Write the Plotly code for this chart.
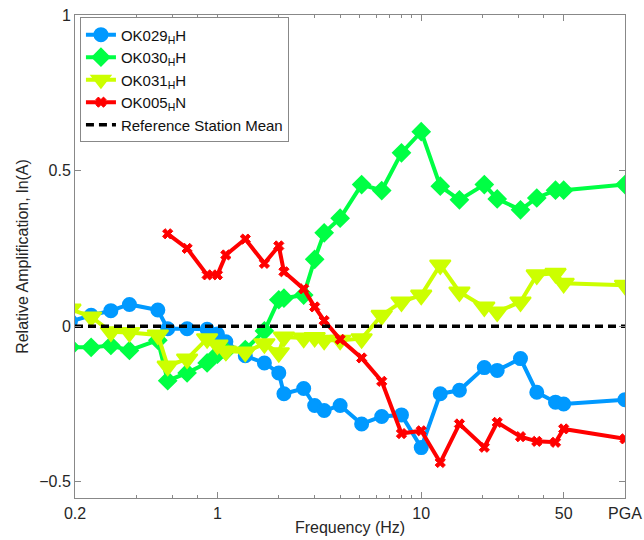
import plotly.graph_objects as go

# Frequencies (Hz); last value (100) is plotted at the "PGA" position
freq = [0.19, 0.24, 0.30, 0.37, 0.51, 0.57, 0.71, 0.89, 1.0, 1.1, 1.37, 1.7, 2.0, 2.12,
        2.65, 3.0, 3.34, 4.0, 5.1, 6.4, 8.0, 10.0, 12.4, 15.4, 20.4, 23.6, 30.7, 36.9,
        45.6, 50.0, 100.0]

ok029 = [0.015, 0.035, 0.05, 0.07, 0.052, -0.008, -0.008, -0.01, -0.025, -0.05, -0.095,
         -0.118, -0.15, -0.217, -0.2, -0.255, -0.271, -0.255, -0.314, -0.29, -0.285,
         -0.39, -0.217, -0.206, -0.133, -0.142, -0.104, -0.212, -0.244, -0.25, -0.236]

ok030 = [-0.067, -0.068, -0.062, -0.078, -0.045, -0.175, -0.15, -0.118, -0.09, -0.08,
         -0.075, -0.015, 0.085, 0.09, 0.1, 0.215, 0.3, 0.347, 0.455, 0.436, 0.557, 0.625,
         0.45, 0.406, 0.455, 0.409, 0.374, 0.412, 0.437, 0.437, 0.455]

ok031 = [0.055, 0.03, -0.018, -0.02, -0.028, -0.128, -0.105, -0.04, -0.06, -0.08, -0.083,
         -0.056, -0.085, -0.035, -0.038, -0.036, -0.045, -0.045, -0.04, 0.035, 0.078, 0.1,
         0.197, 0.11, 0.062, 0.046, 0.078, 0.165, 0.17, 0.138, 0.132]

freq_005 = freq[5:]
ok005 = [0.297, 0.25, 0.165, 0.165, 0.229, 0.28, 0.202, 0.258, 0.175, 0.12, 0.062, 0.018,
         -0.042, -0.102, -0.177, -0.345, -0.336, -0.438, -0.314, -0.389, -0.309, -0.355,
         -0.37, -0.373, -0.33, -0.362]

ref_x = [0.2, 100.0]
ref_y = [0.0, 0.0]

major_ticks = [0.2, 1, 10, 50, 100]
major_text = ["0.2", "1", "10", "50", "PGA"]
minor_ticks = [0.4, 0.6, 0.8, 2, 3, 4, 5, 6, 7, 8, 9, 20, 30, 40]

y_ticks = [-0.5, 0, 0.5, 1]
y_text = ["\u22120.5", "0", "0.5", "1"]

FONT = "Liberation Sans, Arial, sans-serif"

fig = go.Figure()
fig.add_trace(go.Scatter(
    x=freq, y=ok029, mode="lines+markers", name="OK029<sub>H</sub>H",
    line=dict(color="#0099FF", width=4),
    marker=dict(symbol="circle", size=13, color="#0099FF", line=dict(color="#0099FF", width=2)),
))
fig.add_trace(go.Scatter(
    x=freq, y=ok030, mode="lines+markers", name="OK030<sub>H</sub>H",
    line=dict(color="#00FF44", width=4),
    marker=dict(symbol="diamond", size=13, color="#00FF44", line=dict(color="#00FF44", width=2)),
))
fig.add_trace(go.Scatter(
    x=freq, y=ok031, mode="lines+markers", name="OK031<sub>H</sub>H",
    line=dict(color="#CCFF00", width=4),
    marker=dict(symbol="triangle-down", size=18, color="#CCFF00", line=dict(color="#CCFF00", width=2)),
))
fig.add_trace(go.Scatter(
    x=freq_005, y=ok005, mode="lines+markers", name="OK005<sub>H</sub>N",
    line=dict(color="#FF0000", width=4),
    marker=dict(symbol="x", size=9, color="#FF0000", line=dict(color="#FF0000", width=1)),
))
fig.add_trace(go.Scatter(
    x=ref_x, y=ref_y, mode="lines", name="Reference Station Mean",
    line=dict(color="black", width=3.5, dash="8px,5px"),
))

axis_common = dict(
    showline=True, linecolor="#888888", linewidth=1, mirror="ticks",
    ticks="inside", tickcolor="#888888", showgrid=False, zeroline=False,
    tickfont=dict(family=FONT, size=16, color="#262626"),
    automargin=False,
)

fig.update_layout(
    width=644, height=540,
    margin=dict(l=75, r=19, t=15, b=42),
    paper_bgcolor="white", plot_bgcolor="white",
    font=dict(family=FONT, size=16, color="#262626"),
    showlegend=True,
    legend=dict(
        x=0.009, y=0.995, xanchor="left", yanchor="top",
        bgcolor="white", bordercolor="#888888", borderwidth=1,
        font=dict(family=FONT, size=15, color="#111111"),
        itemwidth=30, tracegroupgap=0,
    ),
    xaxis=dict(
        type="log", range=[-0.69897, 2.0],
        tickmode="array", tickvals=major_ticks, ticktext=major_text, ticklen=6,
        ticklabelstandoff=1,
        minor=dict(tickmode="array", tickvals=minor_ticks, ticks="inside", ticklen=3,
                   tickcolor="#888888", showgrid=False),
        title=dict(text="Frequency (Hz)", font=dict(family=FONT, size=16, color="#262626"), standoff=0),
        **axis_common,
    ),
    yaxis=dict(
        range=[-0.552, 1.0],
        tickmode="array", tickvals=y_ticks, ticktext=y_text, ticklen=6,
        title=dict(text="Relative Amplification, ln(A)", font=dict(family=FONT, size=16, color="#262626"), standoff=6),
        **axis_common,
    ),
)

fig.write_html("out.html")
